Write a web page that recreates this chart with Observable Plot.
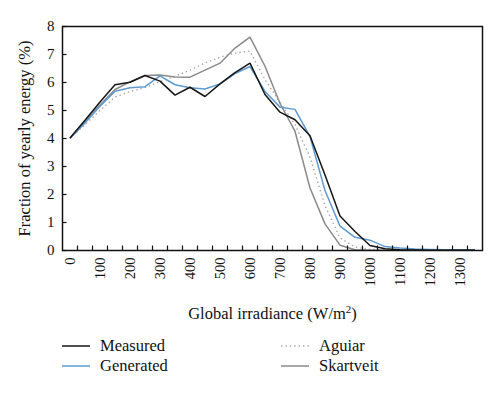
<!DOCTYPE html>
<html><head><meta charset="utf-8">
<script src="https://cdn.jsdelivr.net/npm/d3@7"></script>
<script src="https://cdn.jsdelivr.net/npm/@observablehq/plot@0.6"></script>
<style>
html,body{margin:0;padding:0;background:#fff;}
body{font-family:"Liberation Serif",serif;width:500px;}
#legend{position:relative;height:64px;width:500px;}
.item{position:absolute;height:20px;font-size:16.5px;line-height:20px;color:#111;white-space:nowrap;}
.item svg{position:absolute;left:0;top:0;}
.item span{position:absolute;top:0;}
</style></head><body>
<div id="chart"></div>
<div id="legend"></div>
<script>
const irradiance = [0,50,100,150,200,250,300,350,400,450,500,550,600,650,700,750,800,850,900,950,1000,1050,1100,1150,1200,1250,1300,1350];
const measured  = [4.02,4.65,5.30,5.92,6.01,6.25,6.05,5.55,5.83,5.50,5.95,6.35,6.69,5.57,4.94,4.67,4.10,2.70,1.23,0.68,0.18,0.06,0.03,0.02,0.01,0.01,0.01,0.01];
const generated = [4.02,4.55,5.15,5.69,5.81,5.85,6.24,5.92,5.81,5.77,5.95,6.32,6.57,5.68,5.12,5.04,4.07,2.14,0.87,0.47,0.37,0.14,0.09,0.05,0.04,0.03,0.03,0.03];
const aguiar    = [4.00,4.50,5.00,5.48,5.68,5.82,6.03,6.22,6.44,6.70,6.90,7.05,7.12,6.10,5.30,4.50,3.33,1.60,0.45,0.12,0.04,0.02,0.01,0.01,0.01,0.01,0.01,0.01];
const skartveit = [4.00,4.60,5.20,5.75,6.02,6.25,6.27,6.20,6.19,6.44,6.69,7.23,7.62,6.58,5.25,4.26,2.23,0.95,0.19,0.03,0.01,0.01,0.01,0.01,0.01,0.01,0.01,0.01];
const seriesNames = ["Measured","Generated","Aguiar","Skartveit"];
const yTicks = [0,1,2,3,4,5,6,7,8];
const xLabelTicks = [0,100,200,300,400,500,600,700,800,900,1000,1100,1200,1300];
const xMinorTicks = [25,75,125,175,225,275,325,375,425,475,525,575,625,675,725,775,825,875,925,975,1025,1075,1125,1175,1225,1275,1325];

const seriesValues = {Measured: measured, Generated: generated, Aguiar: aguiar, Skartveit: skartveit};
const styles = {
  Measured:  {stroke:"#151515", strokeWidth:1.5, dash:null},
  Generated: {stroke:"#5f9bd0", strokeWidth:1.5, dash:null},
  Aguiar:    {stroke:"#a8a8a8", strokeWidth:1.4, dash:"1.4,3"},
  Skartveit: {stroke:"#8a8a8a", strokeWidth:1.5, dash:null}
};
const drawOrder = ["Aguiar","Skartveit","Generated","Measured"];

const W = 500, H = 330, ML = 62, MR = 18, MT = 26, MB = 80, TICK = 4.5;

const lineMarks = drawOrder.map(name => Plot.line(
  irradiance.map((x, i) => ({x, y: seriesValues[name][i]})),
  {x:"x", y:"y", stroke: styles[name].stroke, strokeWidth: styles[name].strokeWidth,
   strokeDasharray: styles[name].dash, strokeLinejoin:"miter", strokeLinecap:"butt"}
));

const chart = Plot.plot({
  width:W, height:H,
  marginLeft:ML, marginRight:MR, marginTop:MT, marginBottom:MB,
  style:{fontFamily:"'Liberation Serif', serif", fontSize:"15px", background:"#fff", color:"#111"},
  x:{domain:[-25,1375]},
  y:{domain:[0,8]},
  marks:[
    ...lineMarks,
    Plot.axisY({ticks:yTicks, tickSize:0, tickPadding:8, tickFormat:d => String(d), label:"Fraction of yearly energy (%)", labelAnchor:"center", labelArrow:"none", labelOffset:44, fontSize:15}),
    Plot.tickY(yTicks, {y:d => d, stroke:"#111", strokeWidth:1.2, insetRight:(W - ML - MR) - TICK}),
    Plot.tickX(xMinorTicks, {x:d => d, stroke:"#111", strokeWidth:1.2, insetTop:(H - MT - MB) - TICK}),
    Plot.axisX({ticks:xLabelTicks, tickSize:0, tickPadding:7, tickRotate:-90, tickFormat:d => String(d), label:"Global irradiance (W/m2)", labelAnchor:"center", labelArrow:"none", labelOffset:68, fontSize:14.5}),
    Plot.frame({stroke:"#111", strokeWidth:1.5})
  ]
});
document.getElementById("chart").appendChild(chart);
chart.querySelectorAll("[aria-label$='axis label'] text").forEach(t => {
  t.setAttribute("font-size","16.5");
  if (t.textContent.includes("W/m2")) {
    t.textContent = "";
    const ns = "http://www.w3.org/2000/svg";
    const a = document.createElementNS(ns, "tspan"); a.textContent = "Global irradiance (W/m";
    const b = document.createElementNS(ns, "tspan"); b.textContent = "2"; b.setAttribute("font-size","11"); b.setAttribute("dy","-6");
    const c = document.createElementNS(ns, "tspan"); c.textContent = ")"; c.setAttribute("dy","6");
    t.append(a, b, c);
  }
});

const legend = document.getElementById("legend");
const legendPos = {Measured:[62,6], Generated:[62,26], Aguiar:[281,6], Skartveit:[281,26]};
seriesNames.forEach(name => {
  const [lx, ly] = legendPos[name];
  const s = styles[name];
  const item = document.createElement("div");
  item.className = "item";
  item.style.left = lx + "px";
  item.style.top = ly + "px";
  item.innerHTML = `<svg width="30" height="20"><line x1="0" x2="28" y1="10" y2="10" stroke="${s.stroke}" stroke-width="${s.strokeWidth}" ${s.dash ? `stroke-dasharray="${s.dash}"` : ""}/></svg><span style="left:38px">${name}</span>`;
  legend.appendChild(item);
});
</script>
</body></html>
